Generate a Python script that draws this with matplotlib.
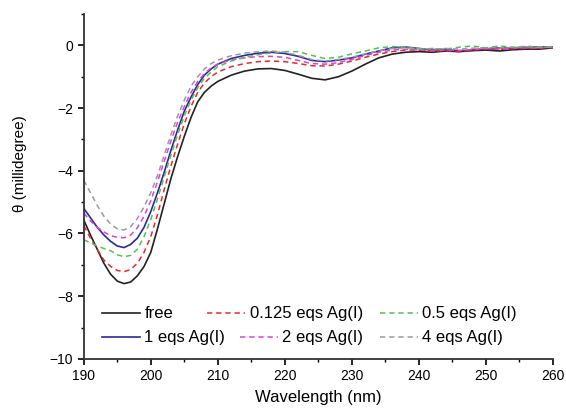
import numpy as np
import matplotlib
matplotlib.use('Agg')
import matplotlib.pyplot as plt
from matplotlib.ticker import MultipleLocator

plt.rcParams['font.family'] = ['Liberation Sans', 'DejaVu Sans']
plt.rcParams['font.size'] = 10

# wavelength grid (nm)
wavelength = list(range(190, 211)) + list(range(212, 261, 2))

# CD signal (millidegree)
free = [-5.57, -6.05, -6.5, -6.95, -7.3, -7.52, -7.6, -7.55, -7.35, -7.05, -6.6,
        -5.85, -5.05, -4.25, -3.55, -2.9, -2.3, -1.8, -1.5, -1.3, -1.15,
        -0.95, -0.82, -0.75, -0.74, -0.8, -0.92, -1.05, -1.1, -1.0, -0.82,
        -0.6, -0.4, -0.28, -0.22, -0.2, -0.22, -0.18, -0.2, -0.17, -0.15,
        -0.18, -0.14, -0.12, -0.12, -0.08]
eq_0125 = [-5.75, -6.15, -6.5, -6.85, -7.05, -7.18, -7.22, -7.15, -6.95, -6.6, -6.1,
           -5.4, -4.6, -3.85, -3.15, -2.5, -1.95, -1.5, -1.2, -1.0, -0.85,
           -0.68, -0.58, -0.52, -0.5, -0.52, -0.58, -0.65, -0.66, -0.6, -0.5,
           -0.38, -0.28, -0.2, -0.15, -0.15, -0.18, -0.17, -0.2, -0.15, -0.12,
           -0.13, -0.1, -0.1, -0.08, -0.07]
eq_05 = [-6.2, -6.3, -6.4, -6.48, -6.55, -6.68, -6.74, -6.7, -6.5, -6.1, -5.55,
         -4.9, -4.2, -3.5, -2.85, -2.25, -1.75, -1.35, -1.05, -0.85, -0.68,
         -0.5, -0.38, -0.3, -0.24, -0.2, -0.2, -0.32, -0.42, -0.38, -0.27,
         -0.18, -0.08, -0.04, -0.05, -0.12, -0.1, -0.12, -0.06, -0.02, -0.08,
         -0.02, -0.06, -0.03, -0.05, -0.04]
eq_1 = [-5.2, -5.5, -5.8, -6.05, -6.25, -6.4, -6.45, -6.35, -6.15, -5.8, -5.3,
        -4.7, -4.05, -3.35, -2.7, -2.1, -1.65, -1.25, -0.95, -0.75, -0.6,
        -0.42, -0.32, -0.25, -0.22, -0.26, -0.35, -0.48, -0.52, -0.47, -0.4,
        -0.28, -0.18, -0.08, -0.05, -0.1, -0.15, -0.13, -0.18, -0.15, -0.12,
        -0.08, -0.1, -0.06, -0.05, -0.05]
eq_2 = [-5.35, -5.6, -5.8, -5.95, -6.07, -6.12, -6.14, -6.05, -5.82, -5.45, -4.95,
        -4.35, -3.7, -3.05, -2.45, -1.95, -1.5, -1.15, -0.9, -0.72, -0.6,
        -0.46, -0.4, -0.36, -0.35, -0.38, -0.48, -0.58, -0.6, -0.55, -0.45,
        -0.32, -0.22, -0.15, -0.12, -0.15, -0.17, -0.15, -0.16, -0.13, -0.1,
        -0.12, -0.09, -0.08, -0.08, -0.06]
eq_4 = [-4.3, -4.7, -5.1, -5.45, -5.7, -5.85, -5.89, -5.78, -5.52, -5.15, -4.7,
        -4.15, -3.5, -2.85, -2.25, -1.75, -1.3, -1.0, -0.75, -0.58, -0.47,
        -0.33, -0.25, -0.2, -0.18, -0.22, -0.32, -0.45, -0.5, -0.45, -0.38,
        -0.27, -0.18, -0.1, -0.08, -0.1, -0.12, -0.1, -0.12, -0.09, -0.07,
        -0.08, -0.06, -0.05, -0.06, -0.05]

fig = plt.figure(figsize=(5.66, 4.12), dpi=100)
ax = fig.add_axes([0.148, 0.129, 0.829, 0.837])

DASH = (0, (3.5, 2.5))
h_free, = ax.plot(wavelength, free, color='#222222', lw=1.2, ls='-')
h_1, = ax.plot(wavelength, eq_1, color='#2a2a9c', lw=1.2, ls='-')
h_0125, = ax.plot(wavelength, eq_0125, color='#e8282c', lw=1.1, ls=DASH)
h_2, = ax.plot(wavelength, eq_2, color='#e040d8', lw=1.1, ls=DASH)
h_05, = ax.plot(wavelength, eq_05, color='#55c055', lw=1.1, ls=DASH)
h_4, = ax.plot(wavelength, eq_4, color='#9a9a9a', lw=1.1, ls=DASH)

ax.set_xlim(190, 260)
ax.set_ylim(-10, 1)
ax.xaxis.set_major_locator(MultipleLocator(10))
ax.xaxis.set_minor_locator(MultipleLocator(5))
ax.yaxis.set_major_locator(MultipleLocator(2))
ax.yaxis.set_minor_locator(MultipleLocator(1))
ax.tick_params(which='major', direction='out', length=4, width=1.2, labelsize=10)
ax.tick_params(which='minor', direction='out', length=2.5, width=1.0)

for s in ['top', 'right']:
    ax.spines[s].set_visible(False)
for s in ['left', 'bottom']:
    ax.spines[s].set_linewidth(1.3)
    ax.spines[s].set_color('#333333')

ax.set_xlabel('Wavelength (nm)', fontsize=12, labelpad=5)
ax.set_ylabel('θ (millidegree)', fontsize=11)
ax.yaxis.set_label_coords(-0.122, 0.565)

# Origin-style legend: entries placed one by one
entries = [
    (h_free, 'free', 0.180, 0.238),
    (h_0125, '0.125 eqs Ag(I)', 0.366, 0.238),
    (h_05, '0.5 eqs Ag(I)', 0.671, 0.238),
    (h_1, '1 eqs Ag(I)', 0.180, 0.180),
    (h_2, '2 eqs Ag(I)', 0.424, 0.180),
    (h_4, '4 eqs Ag(I)', 0.671, 0.180),
]
for h, lab, x, y in entries:
    fig.legend([h], [lab], loc='center left', bbox_to_anchor=(x, y),
               bbox_transform=fig.transFigure, frameon=False, fontsize=12,
               handlelength=2.3, handletextpad=0.25, borderpad=0,
               borderaxespad=0)

fig.savefig('out.png', dpi=100, facecolor='white')
